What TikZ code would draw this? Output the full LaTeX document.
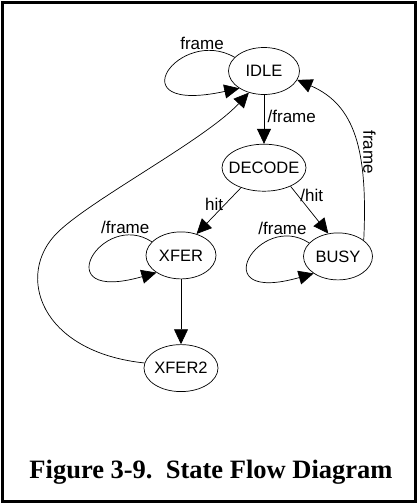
\documentclass[tikz,border=0pt]{standalone}
\usepackage{fontspec}
\setmainfont{Liberation Serif}
\setsansfont{Liberation Sans}
\usetikzlibrary{positioning}
\usetikzlibrary{arrows.meta}
\usetikzlibrary{shapes.geometric}

\begin{document}
\begin{tikzpicture}[x=1pt, y=-1pt, line width=0.7pt,
    state/.style={draw, ellipse, inner xsep=-30pt, inner ysep=0pt, minimum height=47pt,
        font=\sffamily\fontsize{16.5}{18}\selectfont},
    lbl/.style={font=\sffamily\fontsize{17}{19}\selectfont},
    >={Triangle[length=15pt, width=14pt]}]

    \useasboundingbox (0,0) rectangle (418,504);
    \draw[line width=3pt] (2.5,2.5) rectangle (415.5,501.5);

    \node[state, minimum width=71pt] (idle) at (264,71) { IDLE };
    \node[state, minimum width=84pt, below=49pt of idle] (decode) { DECODE };

    \node[state, minimum width=70pt, below=40pt of decode, xshift=-83pt] (xfer) { XFER };
    \node[state, minimum width=69pt, below=41pt of decode, xshift=74pt] (busy) { BUSY };

    \node[state, minimum width=74pt, below=65pt of xfer] (xfer2) { XFER2 };

    \draw[->] (idle.155) .. controls +(-55,-32) and +(-125,27) .. node[lbl, pos=.2, above, inner sep=1pt] {frame} (idle.215);
    \draw[->] (xfer.155) .. controls +(-50,-33) and +(-112,32) .. node[lbl, pos=.18, above, inner sep=1pt] {/frame} (xfer.215);
    \draw[->] (busy.155) .. controls +(-50,-33) and +(-112,32) .. node[lbl, pos=.18, above, inner sep=1pt] {/frame} (busy.215);

    \draw[->] (idle) -- node[lbl, right, pos=.45] {/frame} (decode);
    \draw[->] (decode.221) -- node[lbl, left, pos=.35, inner sep=2pt] {hit} (xfer.54);
    \draw[->] (decode.325) -- node[lbl, right, pos=.2, inner sep=2pt] {/hit} (busy.113);
    \draw[->] (xfer) -- (xfer2);

    \draw[->] (xfer2.172) .. controls (40,352) and (15,275) .. (57,233)
        .. controls (90,200) and (205,140) .. (idle.235);
    \draw[->] (busy.32) .. controls (368,150) and (355,105) .. node[lbl, rotate=-90, pos=.4, anchor=south, inner sep=4pt] {frame} (idle.345);

    \node[font=\bfseries\fontsize{26.5}{30}\selectfont, anchor=base] (caption) at (211,478) {Figure 3-9.\ \ State Flow Diagram};

\end{tikzpicture}
\end{document}
